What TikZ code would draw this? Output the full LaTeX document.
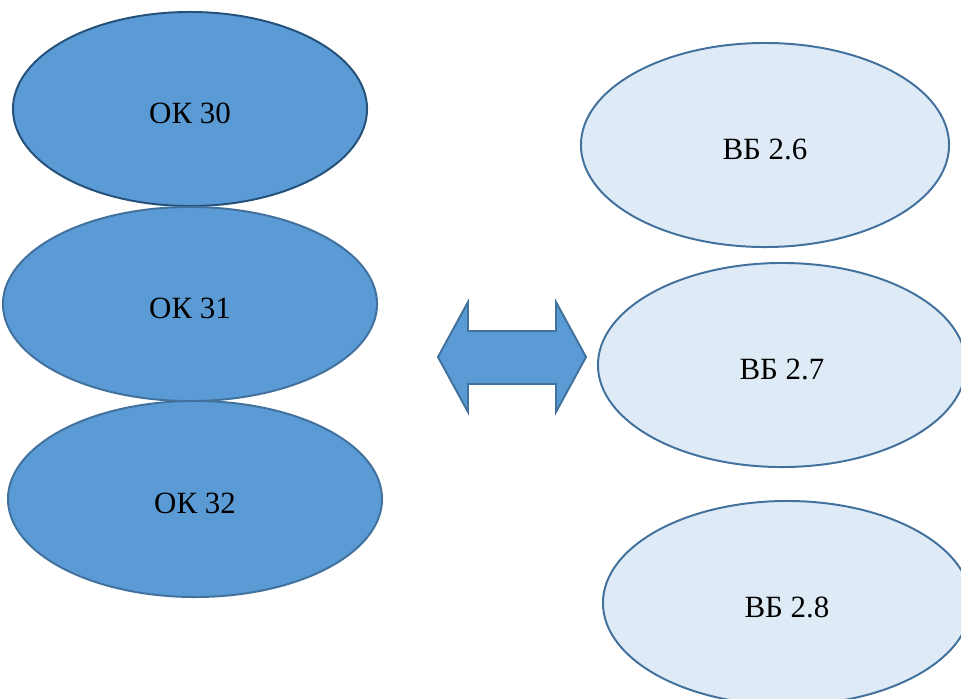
\documentclass[tikz,border=0pt]{standalone}
\usepackage{fontspec}
\setmainfont{Liberation Serif}
\usepackage{xcolor}
\usetikzlibrary{shapes.geometric}
\definecolor{okFill}{HTML}{5B9BD5}
\definecolor{okLine}{HTML}{41719C}
\definecolor{okDark}{HTML}{24507A}
\definecolor{vbFill}{HTML}{DEEBF7}
\tikzset{%
  % Specifications for style of nodes:
      oval/.style = {ellipse, draw=okLine, line width=1.4pt, inner sep=0pt,
                     text height=20pt, text depth=0pt,
                     font=\fontsize{22}{25}\selectfont},
  okOval/.style = {oval, fill=okFill},
  vbOval/.style = {oval, fill=vbFill},
}

\begin{document}
\begin{tikzpicture}[x=0.025cm, y=-0.025cm]
  \useasboundingbox (0,0) rectangle (961,698);
  \clip (0,0) rectangle (961,698);
  % Specification of nodes (position, etc.)
  \node (ok30) [okOval, draw=okDark, minimum width=8.85cm, minimum height=4.85cm]
        at (190,109) {ОК 30};
  \node (ok31) [okOval, minimum width=9.35cm, minimum height=4.85cm]
        at (190,304) {ОК 31};
  \node (ok32) [okOval, minimum width=9.35cm, minimum height=4.9cm]
        at (195,499) {ОК 32};
  \node (vb26) [vbOval, minimum width=9.2cm, minimum height=5.1cm]
        at (765,145) {ВБ 2.6};
  \node (vb27) [vbOval, minimum width=9.2cm, minimum height=5.1cm]
        at (782,365) {ВБ 2.7};
  \node (vb28) [vbOval, minimum width=9.2cm, minimum height=5.1cm]
        at (787,603) {ВБ 2.8};

  % Double arrow between the two groups
  \coordinate (link) at (512,357);
  \filldraw[fill=okFill, draw=okLine, line width=1.4pt, line join=miter]
    (438,357) -- (468,302) -- (468,331) -- (556,331) -- (556,302)
    -- (586,357) -- (556,412) -- (556,384) -- (468,384) -- (468,412)
    -- cycle;
\end{tikzpicture}
\end{document}
